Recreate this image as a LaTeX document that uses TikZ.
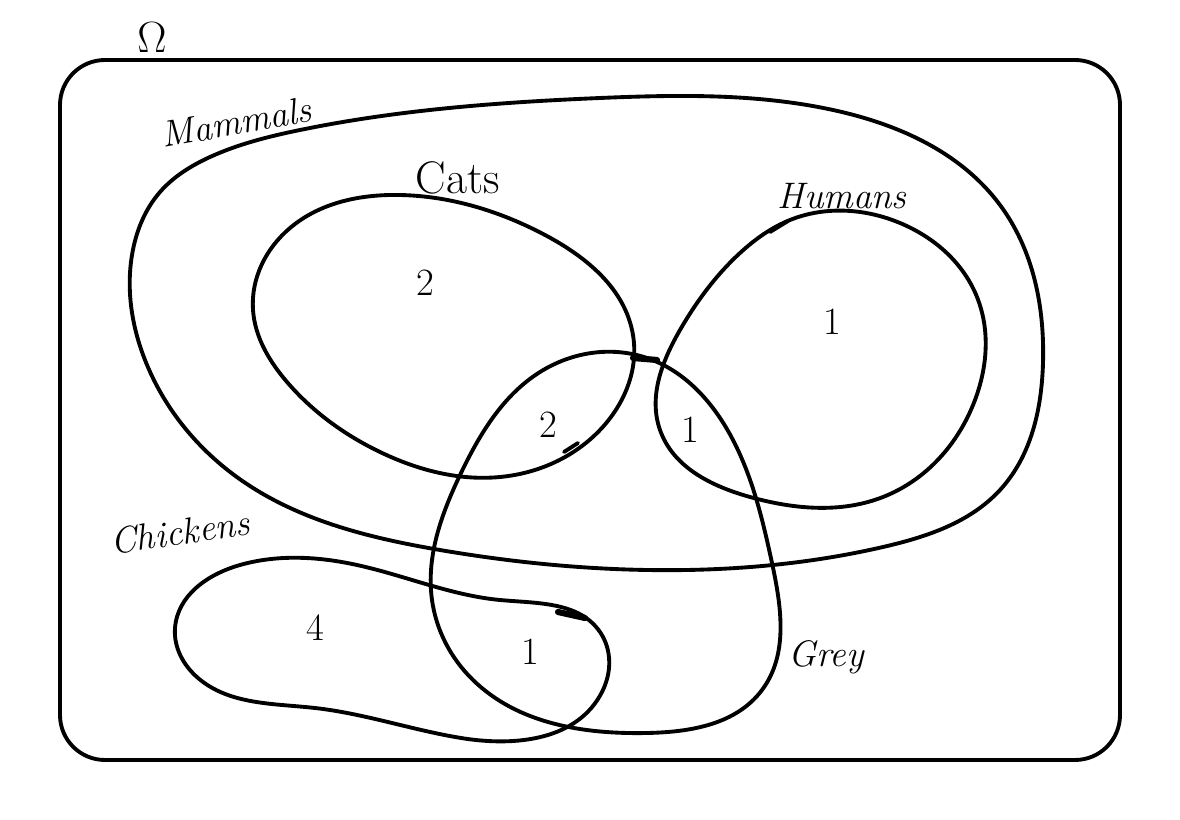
\documentclass[tikz,border=0pt]{standalone}
\usepackage{tikz}
\usetikzlibrary{hobby}
\begin{document}
\begin{tikzpicture}[x=0.02cm,y=-0.02cm,line width=2.2pt,line join=round,line cap=round,
    setlabel/.style={font=\fontsize{21}{25}\selectfont\itshape},
    count/.style={font=\fontsize{22}{26}\selectfont}]
    \useasboundingbox (0,0) rectangle (1180,820);

    % Universe
    \draw[rounded corners=0.9cm] (60,60) rectangle (1120,760);
    \node[font=\fontsize{26}{30}\selectfont] (omega) at (152,38) {$\Omega$};

    % Mammals
    \draw[use Hobby shortcut,closed=true] (160,192) .. (210,157) .. (300,130) .. (600,98) .. (833,110) .. (1000,205) .. (1043,363) .. (1000,490) .. (883,547) .. (647,570) .. (440,550) .. (241,480) .. (145,360) .. (132,255);
    \node[setlabel,rotate=10] (mammals) at (236,122) {Mammals};

    % Cats
    \draw[use Hobby shortcut,closed=true] (253,310) .. (290,228) .. (400,195) .. (545,235) .. (633,335) .. (600,430) .. (500,477) .. (380,452) .. (287,382);
    \draw (564,452) -- (578,443);
    \node[font=\fontsize{26}{30}\selectfont] (cats) at (458,178) {Cats};
    \node[count] (catsonly) at (425,283) {2};

    % Humans
    \draw[use Hobby shortcut,closed=true] (790,220) .. (900,223) .. (977,297) .. (975,400) .. (883,497) .. (750,497) .. (660,430) .. (680,330) .. (740,253);
    \draw (770,232) -- (788,221);
    \node[setlabel] (humans) at (842,196) {Humans};
    \node[count] (humansonly) at (832,322) {1};

    % Grey
    \draw[use Hobby shortcut,closed=true] (647,358) .. (733,440) .. (772,563) .. (762,690) .. (647,733) .. (473,680) .. (432,600) .. (461,473) .. (540,372);
    \draw[line width=3.5pt] (633,358) -- (657,360);
    \node[setlabel] (grey) at (826,657) {Grey};
    \node[count] (greycats) at (548,425) {2};
    \node[count] (greyhumans) at (690,430) {1};

    % Chickens
    \draw[use Hobby shortcut,closed=true] (175,628) .. (240,565) .. (357,565) .. (500,600) .. (600,632) .. (602,692) .. (461,738) .. (315,708) .. (198,678);
    \draw[line width=3.5pt] (558,612) -- (585,618);
    \node[setlabel,rotate=8] (chickens) at (180,532) {Chickens};
    \node[count] (chickensonly) at (315,628) {4};
    \node[count] (greychickens) at (530,652) {1};
\end{tikzpicture}
\end{document}
